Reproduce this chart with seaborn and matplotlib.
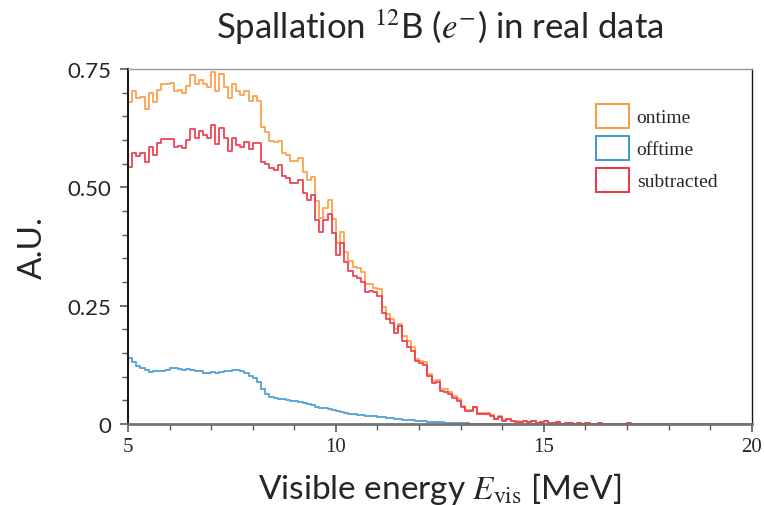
import numpy as np
import pandas as pd
import seaborn as sns
import matplotlib.pyplot as plt
from matplotlib.patches import Patch
from matplotlib.ticker import MultipleLocator, FixedLocator

# bin contents, 0.1 MeV bins from 5.0 to 20.0 MeV
ontime = [
    0.680, 0.703, 0.689, 0.691, 0.666, 0.698, 0.680, 0.706, 0.717, 0.717,
    0.720, 0.703, 0.706, 0.698, 0.713, 0.737, 0.719, 0.727, 0.719, 0.711,
    0.743, 0.703, 0.739, 0.711, 0.688, 0.719, 0.703, 0.695, 0.703, 0.682,
    0.692, 0.682, 0.627, 0.616, 0.597, 0.595, 0.598, 0.573, 0.569, 0.556,
    0.556, 0.561, 0.532, 0.516, 0.521, 0.470, 0.435, 0.456, 0.472, 0.433,
    0.382, 0.405, 0.364, 0.345, 0.331, 0.330, 0.320, 0.295, 0.295, 0.288,
    0.285, 0.247, 0.232, 0.222, 0.201, 0.211, 0.185, 0.176, 0.162, 0.137,
    0.134, 0.130, 0.106, 0.091, 0.093, 0.075, 0.074, 0.068, 0.060, 0.053,
    0.039, 0.030, 0.030, 0.037, 0.023, 0.023, 0.024, 0.019, 0.011, 0.016,
    0.008, 0.011, 0.007, 0.006, 0.005, 0.007, 0.004, 0.006, 0.003, 0.004,
    0.007, 0.003, 0.002, 0.004, 0.001, 0.002, 0.003, 0.001, 0.002, 0.001,
    0.002, 0.001, 0.001, 0.002, 0.001, 0.001, 0.000, 0.001, 0.001, 0.000,
    0.002, 0.001, 0.000, 0.001, 0.000, 0.001, 0.000, 0.000, 0.001, 0.000,
    0.000, 0.001, 0.000, 0.000, 0.000, 0.001, 0.000, 0.000, 0.000, 0.000,
    0.001, 0.000, 0.000, 0.000, 0.000, 0.000, 0.000, 0.000, 0.000, 0.000,
]
offtime = [
    0.139, 0.130, 0.123, 0.118, 0.114, 0.110, 0.111, 0.112, 0.112, 0.115,
    0.118, 0.118, 0.117, 0.115, 0.117, 0.114, 0.112, 0.111, 0.108, 0.107,
    0.109, 0.108, 0.110, 0.111, 0.112, 0.114, 0.114, 0.111, 0.107, 0.102,
    0.098, 0.088, 0.074, 0.063, 0.058, 0.055, 0.053, 0.052, 0.051, 0.049,
    0.048, 0.046, 0.045, 0.043, 0.040, 0.036, 0.034, 0.033, 0.031, 0.029,
    0.028, 0.026, 0.024, 0.022, 0.021, 0.020, 0.019, 0.018, 0.017, 0.016,
    0.015, 0.014, 0.013, 0.012, 0.011, 0.010, 0.009, 0.008, 0.008, 0.007,
    0.006, 0.006, 0.005, 0.005, 0.004, 0.004, 0.003, 0.003, 0.003, 0.002,
    0.002, 0.002, 0.001, 0.001, 0.001, 0.001, 0.001, 0.001, 0.001, 0.001,
    0.000, 0.000, 0.000, 0.000, 0.000, 0.000, 0.000, 0.000, 0.000, 0.000,
    0.000, 0.000, 0.000, 0.000, 0.000, 0.000, 0.000, 0.000, 0.000, 0.000,
    0.000, 0.000, 0.000, 0.000, 0.000, 0.000, 0.000, 0.000, 0.000, 0.000,
    0.000, 0.000, 0.000, 0.000, 0.000, 0.000, 0.000, 0.000, 0.000, 0.000,
    0.000, 0.000, 0.000, 0.000, 0.000, 0.000, 0.000, 0.000, 0.000, 0.000,
    0.000, 0.000, 0.000, 0.000, 0.000, 0.000, 0.000, 0.000, 0.000, 0.000,
]
subtracted = [
    0.542, 0.572, 0.566, 0.572, 0.553, 0.586, 0.568, 0.594, 0.601, 0.601,
    0.601, 0.584, 0.588, 0.582, 0.600, 0.623, 0.605, 0.618, 0.611, 0.604,
    0.632, 0.592, 0.625, 0.605, 0.577, 0.605, 0.590, 0.585, 0.595, 0.580,
    0.594, 0.594, 0.553, 0.548, 0.540, 0.537, 0.546, 0.523, 0.519, 0.509,
    0.509, 0.515, 0.487, 0.473, 0.484, 0.430, 0.405, 0.430, 0.444, 0.404,
    0.357, 0.382, 0.342, 0.324, 0.312, 0.308, 0.299, 0.278, 0.280, 0.278,
    0.271, 0.235, 0.222, 0.213, 0.192, 0.208, 0.176, 0.162, 0.155, 0.134,
    0.129, 0.125, 0.102, 0.087, 0.089, 0.070, 0.067, 0.063, 0.056, 0.049,
    0.035, 0.028, 0.028, 0.035, 0.021, 0.021, 0.022, 0.018, 0.011, 0.014,
    0.007, 0.010, 0.006, 0.005, 0.005, 0.007, 0.004, 0.006, 0.003, 0.004,
    0.007, 0.003, 0.002, 0.004, 0.001, 0.002, 0.003, 0.001, 0.002, 0.001,
    0.002, 0.001, 0.001, 0.002, 0.001, 0.001, 0.000, 0.001, 0.001, 0.000,
    0.002, 0.001, 0.000, 0.001, 0.000, 0.001, 0.000, 0.000, 0.001, 0.000,
    0.000, 0.001, 0.000, 0.000, 0.000, 0.001, 0.000, 0.000, 0.000, 0.000,
    0.001, 0.000, 0.000, 0.000, 0.000, 0.000, 0.000, 0.000, 0.000, 0.000,
]
series_names = ["ontime", "offtime", "subtracted"]
colors = ["#fb9a3c", "#3b98d3", "#ee3344"]

e_min, e_max, bin_w = 5.0, 20.0, 0.1
centers = e_min + bin_w * (np.arange(len(ontime)) + 0.5)

rows = []
for name, vals in zip(series_names, [ontime, offtime, subtracted]):
    for c, v in zip(centers, vals):
        rows.append({"energy": c, "weight": v, "sample": name})
df = pd.DataFrame(rows)

sns.set_theme(style="ticks")
plt.rcParams["font.family"] = ["Lato", "DejaVu Sans"]
plt.rcParams["mathtext.fontset"] = "stix"

fig = plt.figure(figsize=(7.64, 5.06), dpi=100)
ax = fig.add_axes([0.1675, 0.160, 0.8165, 0.702])

for name, col in zip(series_names, colors):
    sns.histplot(data=df[df["sample"] == name], x="energy", weights="weight",
                 binwidth=bin_w, binrange=(e_min, e_max), element="step",
                 fill=False, color=col, linewidth=1.4, alpha=0.85, ax=ax)

ax.set_xlim(e_min, e_max)
ax.set_ylim(0, 0.75)
ax.xaxis.set_major_locator(FixedLocator([5, 10, 15, 20]))
ax.xaxis.set_minor_locator(MultipleLocator(1))
ax.yaxis.set_major_locator(FixedLocator([0, 0.25, 0.5, 0.75]))
ax.yaxis.set_minor_locator(MultipleLocator(0.05))
ax.set_yticklabels(["0", "0.25", "0.50", "0.75"], fontsize=16)
ax.set_xticklabels(["5", "10", "15", "20"], fontsize=15, family="Liberation Serif")
ax.tick_params(which="major", length=6, width=1.2, color="0.35")
ax.tick_params(which="minor", length=4, width=1.0, color="0.35")
ax.tick_params(axis="y", pad=6)

for side in ["top", "right"]:
    ax.spines[side].set_color("0.6")
    ax.spines[side].set_linewidth(1.0)
ax.spines["right"].set_color("0.1")
ax.spines["left"].set_color("0.1")
ax.spines["left"].set_linewidth(1.5)
ax.spines["bottom"].set_color("0.45")
ax.spines["bottom"].set_linewidth(2.0)

ax.set_xlabel(r"Visible energy $E_{\rm vis}$ [MeV]", fontsize=24, labelpad=10)
ax.set_ylabel("A.U.", fontsize=24, labelpad=14)
ax.set_title(r"Spallation $^{12}$B ($e^{-}$) in real data", fontsize=25, pad=22)

handles = [Patch(facecolor="none", edgecolor=c, linewidth=1.4) for c in colors]
ax.legend(handles, series_names, loc="upper left", bbox_to_anchor=(0.722, 0.95),
          frameon=False, prop={"family": "Liberation Serif", "size": 14},
          handlelength=1.7, handleheight=1.5, handletextpad=0.4, labelspacing=0.42)

fig.savefig("out.png", dpi=100)
